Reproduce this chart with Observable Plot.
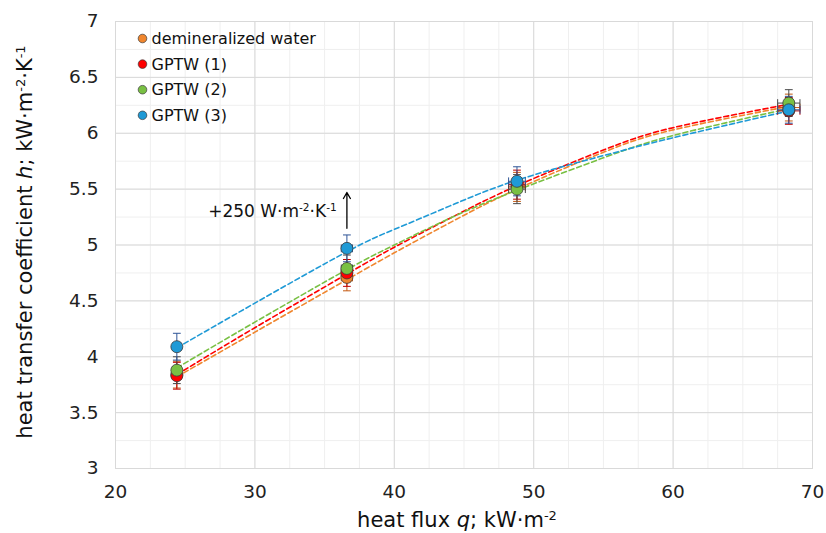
<!DOCTYPE html>
<html><head><meta charset="utf-8">
<script src="https://cdn.jsdelivr.net/npm/d3@7"></script>
<script src="https://cdn.jsdelivr.net/npm/@observablehq/plot@0.6"></script>
<style>body{margin:0;background:#fff}</style>
</head><body><div id="chart"></div>
<script>
// ---- data (measured points) ----
const q = [24.4, 36.6, 48.8, 68.3];          // heat flux, kW/m2
const qErr = [0.3, 0.4, 0.6, 0.8];
const seriesNames = ["demineralized water", "GPTW (1)", "GPTW (2)", "GPTW (3)"];
const hWater = [3.84, 4.71, 5.52, 6.23];
const hGPTW1 = [3.83, 4.75, 5.54, 6.20];
const hGPTW2 = [3.88, 4.79, 5.50, 6.27];
const hGPTW3 = [4.09, 4.97, 5.57, 6.21];
const hErr = [0.12, 0.12, 0.13, 0.12];

// ---- trend lines ----
const trendQ = [24.4, 30, 36.6, 40, 44, 48.8, 55, 60, 68.3];
const trendWater = [3.82, 4.22, 4.69, 4.93, 5.20, 5.50, 5.83, 6.03, 6.24];
const trendGPTW1 = [3.84, 4.26, 4.74, 4.98, 5.24, 5.53, 5.85, 6.05, 6.26];
const trendGPTW2 = [3.90, 4.31, 4.78, 5.00, 5.24, 5.49, 5.78, 5.98, 6.22];
const trendGPTW3 = [4.08, 4.48, 4.94, 5.14, 5.35, 5.58, 5.80, 5.96, 6.20];

const xTicks = [20, 30, 40, 50, 60, 70];
const yTicks = [3, 3.5, 4, 4.5, 5, 5.5, 6, 6.5, 7];
const annotation = {q: 36.6, h1: 5.15, h2: 5.47, textQ: 35.9, textH: 5.3};

// ---- styles ----
const colors = ["#F0862E", "#FF0000", "#79C043", "#1F9AD6"];
const errColors = ["#C55A11", "#C00000", "#4a4a4a", "#2F5597"];
const font = "DejaVu Sans";

const hSeries = [hWater, hGPTW1, hGPTW2, hGPTW3];
const trendSeries = [trendWater, trendGPTW1, trendGPTW2, trendGPTW3];
const rows = [];
seriesNames.forEach((s, k) => q.forEach((x, i) => rows.push({series: s, k, q: x, h: hSeries[k][i], qe: qErr[i], he: hErr[i]})));
const trendRows = [];
seriesNames.forEach((s, k) => trendQ.forEach((x, i) => trendRows.push({series: s, q: x, h: trendSeries[k][i]})));

const capX = 0.28, capY = 0.035;
const errMarks = [];
seriesNames.forEach((s, k) => {
  const d = rows.filter(r => r.k === k);
  const st = {stroke: errColors[k], strokeWidth: 1};
  errMarks.push(
    Plot.link(d, {x1: "q", x2: "q", y1: r => r.h - r.he, y2: r => r.h + r.he, ...st}),
    Plot.link(d, {x1: r => r.q - capX, x2: r => r.q + capX, y1: r => r.h + r.he, y2: r => r.h + r.he, ...st}),
    Plot.link(d, {x1: r => r.q - capX, x2: r => r.q + capX, y1: r => r.h - r.he, y2: r => r.h - r.he, ...st}),
    Plot.link(d, {x1: r => r.q - r.qe, x2: r => r.q + r.qe, y1: "h", y2: "h", ...st}),
    Plot.link(d, {x1: r => r.q - r.qe, x2: r => r.q - r.qe, y1: r => r.h - capY, y2: r => r.h + capY, ...st}),
    Plot.link(d, {x1: r => r.q + r.qe, x2: r => r.q + r.qe, y1: r => r.h - capY, y2: r => r.h + capY, ...st})
  );
});

const chart = Plot.plot({
  width: 826, height: 533,
  marginLeft: 115, marginRight: 14, marginTop: 21, marginBottom: 65,
  style: {fontFamily: font, background: "#fff"},
  x: {domain: [20, 70], label: null},
  y: {domain: [3, 7], label: null},
  color: {domain: seriesNames, range: colors},
  marks: [
    Plot.gridX(d3.range(20, 70.01, 2.5), {stroke: "#efefef", strokeOpacity: 1}),
    Plot.gridY(d3.range(3, 7.001, 0.25), {stroke: "#efefef", strokeOpacity: 1}),
    Plot.gridX(xTicks, {stroke: "#d9d9d9", strokeOpacity: 1}),
    Plot.gridY(yTicks, {stroke: "#d9d9d9", strokeOpacity: 1}),
    Plot.frame({stroke: "#d9d9d9"}),
    Plot.axisX({ticks: xTicks, tickSize: 0, tickPadding: 16, fontSize: 18.5, fill: "#222", label: null, tickFormat: d => String(d)}),
    Plot.axisY({ticks: yTicks, tickSize: 0, tickPadding: 17, fontSize: 18.5, fill: "#222", label: null, tickFormat: d => String(d)}),
    Plot.line(trendRows, {x: "q", y: "h", z: "series", stroke: "series", strokeWidth: 1.6, strokeDasharray: "5,3", curve: "natural"}),
    ...errMarks,
    Plot.dot(rows, {x: "q", y: "h", fill: "series", r: 6, stroke: "#3a3a3a", strokeWidth: 0.8}),
    Plot.arrow([annotation], {x1: "q", x2: "q", y1: "h1", y2: "h2", stroke: "#000", strokeWidth: 1.3, headLength: 8})
  ]
});

const svg = d3.select(chart);
const sx = chart.scale("x"), sy = chart.scale("y");

function addRich(g, parts, size) {
  parts.forEach(p => {
    const t = g.append("tspan").text(p.t);
    if (p.i) t.attr("font-style", "italic");
    if (p.sup) t.attr("font-size", size * 0.62).attr("baseline-shift", "super");
  });
}

// y title
const yt = svg.append("text").attr("transform", "translate(32,242) rotate(-90)")
  .attr("text-anchor", "middle").attr("font-size", 21).attr("fill", "#111").attr("font-family", font);
addRich(yt, [{t: "heat transfer coefficient "}, {t: "h", i: 1}, {t: "; kW·m"}, {t: "-2", sup: 1}, {t: "·K"}, {t: "-1", sup: 1}], 21);

// x title
const xt = svg.append("text").attr("x", 457).attr("y", 527)
  .attr("text-anchor", "middle").attr("font-size", 21).attr("fill", "#111").attr("font-family", font);
addRich(xt, [{t: "heat flux "}, {t: "q", i: 1}, {t: "; kW·m"}, {t: "-2", sup: 1}], 21);

// annotation
const at = svg.append("text").attr("x", sx.apply(annotation.textQ)).attr("y", sy.apply(annotation.textH))
  .attr("dy", "0.35em").attr("text-anchor", "end").attr("font-size", 17).attr("fill", "#111").attr("font-family", font);
addRich(at, [{t: "+250 W·m"}, {t: "-2", sup: 1}, {t: "·K"}, {t: "-1", sup: 1}], 17);

// legend
const lg = svg.append("g").attr("font-family", font).attr("font-size", 16).attr("fill", "#111").attr("text-anchor", "start");
seriesNames.forEach((s, k) => {
  const y = 38.5 + k * 25.6;
  lg.append("circle").attr("cx", 142.5).attr("cy", y).attr("r", 4.3).attr("fill", colors[k]).attr("stroke", "#3a3a3a").attr("stroke-width", 0.7);
  lg.append("text").attr("x", 151.5).attr("y", y).attr("dy", "0.36em").attr("text-anchor", "start").text(s);
});

document.getElementById("chart").appendChild(chart);
</script>
</body></html>
